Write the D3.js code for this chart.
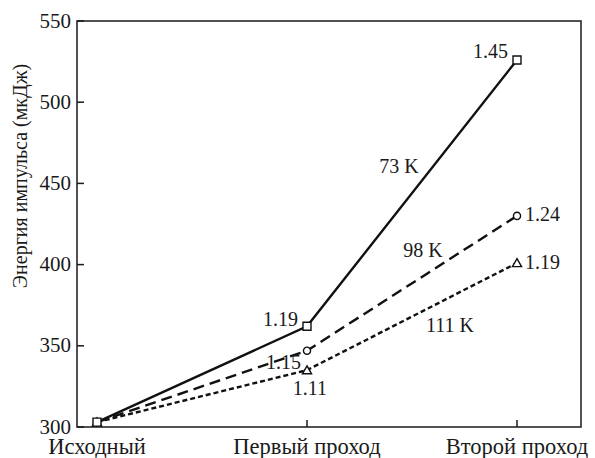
<!DOCTYPE html>
<html><head><meta charset="utf-8">
<script src="https://cdn.jsdelivr.net/npm/d3@7/dist/d3.min.js"></script>
</head><body style="margin:0">
<svg id="chart" width="595" height="458" font-family="Liberation Serif"></svg>
<script>
// Pass stages along the x axis
const stages = ["Исходный", "Первый проход", "Второй проход"];
// Pulse energy (µJ) at each stage, per temperature
const energy73 = [303, 362, 526];
const energy98 = [303, 347, 430];
const energy111 = [303, 335, 401];
// Gain ratio relative to the previous stage
const gain73 = ["", "1.19", "1.45"];
const gain98 = ["", "1.15", "1.24"];
const gain111 = ["", "1.11", "1.19"];
const seriesNames = ["73 K", "98 K", "111 K"];
const yTicks = [300, 350, 400, 450, 500, 550];

const serifFace = "Liberation Serif";
const ink = "#1a1a1a";

const svg = d3.select("#chart");
const plot = { left: 77, right: 581, top: 21, bottom: 427 };

const x = d3.scalePoint().domain(stages).range([97, 517]);
const y = d3.scaleLinear().domain([300, 550]).range([plot.bottom, plot.top]);

// Shared text styling
function serif(sel, size) {
  return sel
    .attr("font-family", serifFace)
    .style("font-family", "'Liberation Serif', 'Times New Roman', serif", "important")
    .attr("font-size", size)
    .attr("fill", ink);
}

// Frame
svg.append("rect")
  .attr("x", plot.left).attr("y", plot.top)
  .attr("width", plot.right - plot.left).attr("height", plot.bottom - plot.top)
  .attr("fill", "none").attr("stroke", ink).attr("stroke-width", 1.5);

// Y axis: tick marks drawn inward, labels added as plain text
const yAxis = svg.append("g");
yAxis.selectAll("line").data(yTicks).join("line")
  .attr("x1", plot.left).attr("x2", plot.left + 7)
  .attr("y1", d => y(d)).attr("y2", d => y(d))
  .attr("stroke", ink).attr("stroke-width", 1.5);
yAxis.selectAll("text").data(yTicks).join("text")
  .attr("x", plot.left - 6).attr("y", d => y(d) + 6.5)
  .attr("text-anchor", "end")
  .call(serif, 21)
  .text(d => d);

// X axis: tick marks inward, category labels below
const xAxis = svg.append("g");
xAxis.selectAll("line").data(stages).join("line")
  .attr("x1", d => x(d)).attr("x2", d => x(d))
  .attr("y1", plot.bottom).attr("y2", plot.bottom - 7)
  .attr("stroke", ink).attr("stroke-width", 1.5);
xAxis.selectAll("text").data(stages).join("text")
  .attr("x", d => x(d)).attr("y", plot.bottom + 26.5)
  .attr("text-anchor", "middle")
  .call(serif, 22.5)
  .text(d => d);

// Y axis title
svg.append("text")
  .attr("transform", "translate(27,176) rotate(-90)")
  .attr("text-anchor", "middle")
  .call(serif, 20)
  .text("Энергия импульса (мкДж)");

const series = [
  { values: energy73, gains: gain73, dash: null, marker: "square" },
  { values: energy98, gains: gain98, dash: "11,6", marker: "circle" },
  { values: energy111, gains: gain111, dash: "5,3", marker: "triangle" }
];

const line = d3.line().x((d, i) => x(stages[i])).y(d => y(d));

series.forEach(s => {
  svg.append("path")
    .datum(s.values)
    .attr("d", line)
    .attr("fill", "none")
    .attr("stroke", "#111")
    .attr("stroke-width", 2.4)
    .attr("stroke-dasharray", s.dash);
});

// Open markers
const symType = { square: d3.symbolSquare, circle: d3.symbolCircle, triangle: d3.symbolTriangle };
const symSize = { square: 64, circle: 40, triangle: 36 };
series.slice().reverse().forEach(s => {
  svg.append("g").selectAll("path")
    .data(s.values)
    .join("path")
    .attr("transform", (d, i) => `translate(${x(stages[i])},${y(d) + (s.marker === "triangle" ? 1 : 0)})`)
    .attr("d", d3.symbol().type(symType[s.marker]).size(symSize[s.marker]))
    .attr("fill", "#fff")
    .attr("stroke", "#111")
    .attr("stroke-width", 1.4);
});

// Gain ratio labels, offset from their markers
const gainLabels = [
  { s: 0, i: 1, dx: -9, dy: 0, anchor: "end" },
  { s: 0, i: 2, dx: -9, dy: -2, anchor: "end" },
  { s: 1, i: 1, dx: -6, dy: 18, anchor: "end" },
  { s: 1, i: 2, dx: 8, dy: 5, anchor: "start" },
  { s: 2, i: 1, dx: 3, dy: 25, anchor: "middle" },
  { s: 2, i: 2, dx: 8, dy: 6, anchor: "start" }
];
gainLabels.forEach(g => {
  const s = series[g.s];
  svg.append("text")
    .attr("x", x(stages[g.i]) + g.dx)
    .attr("y", y(s.values[g.i]) + g.dy)
    .attr("text-anchor", g.anchor)
    .call(serif, 20)
    .text(s.gains[g.i]);
});

// Temperature labels
const tempPos = [
  { t: 0, x: 399, y: 173 },
  { t: 1, x: 423, y: 257 },
  { t: 2, x: 450, y: 332 }
];
tempPos.forEach(p => {
  svg.append("text")
    .attr("x", p.x).attr("y", p.y)
    .attr("text-anchor", "middle")
    .call(serif, 20)
    .text(seriesNames[p.t]);
});
</script>
</body>
</html>
